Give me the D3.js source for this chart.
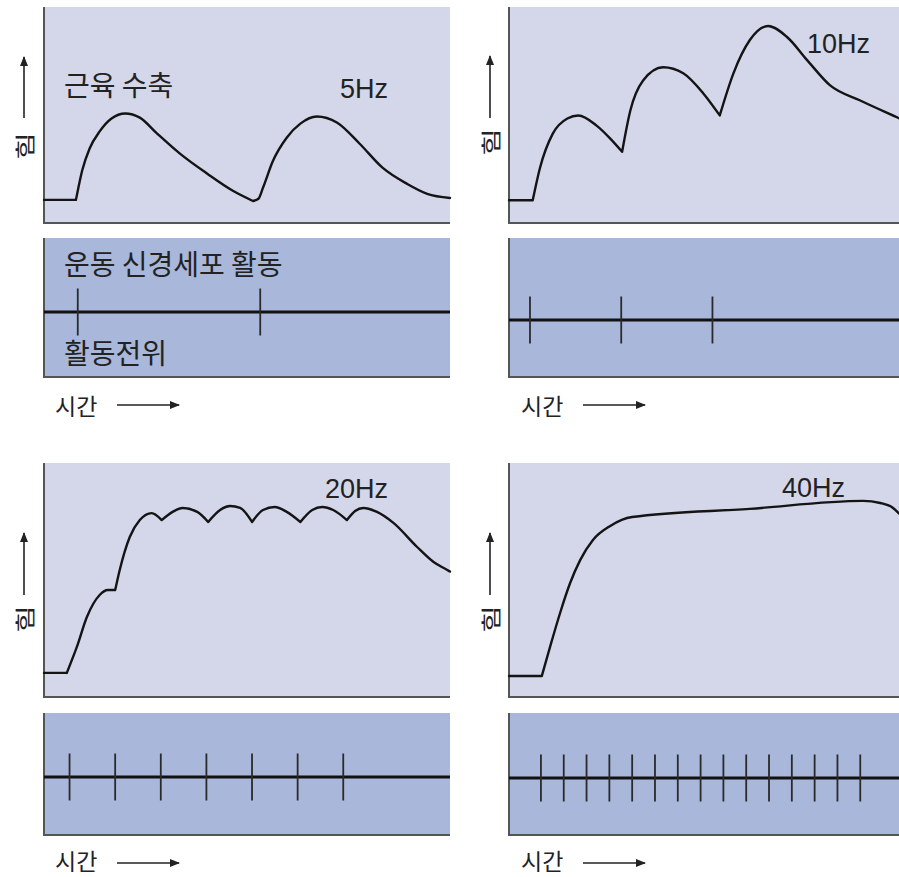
<!DOCTYPE html>
<html>
<head>
<meta charset="utf-8">
<script src="https://cdn.jsdelivr.net/npm/d3@7"></script>
<style>
  html, body { margin: 0; padding: 0; background: #ffffff; }
  svg { display: block; }
  .kr { font-family: "Noto Sans CJK KR", "Noto Sans", sans-serif; fill: #222; }
  .hz { font-family: "Liberation Sans", Arial, sans-serif; fill: #222; }
</style>
</head>
<body>
<svg id="chart" width="899" height="877"></svg>
<script>
// Time axis in ms, force in arbitrary units (0-100 per panel)
const timeDomain = [0, 445];
const forceDomain = [0, 100];

const frequencies = ["5Hz", "10Hz", "20Hz", "40Hz"];

// Motor neuron action-potential times (ms)
const spikes5Hz  = [37, 237];
const spikes10Hz = [23, 123, 223];
const spikes20Hz = [28, 78, 128, 178, 228, 278, 328];
const spikes40Hz = [35, 60, 85, 110, 135, 160, 185, 210, 235, 260, 285, 310, 335, 360, 385];

// Muscle force traces, split into segments at each twitch onset: [time, force]
const force5Hz = [
  [[0, 10.7], [35, 10.7]],
  [[35, 10.7], [38, 17.0], [42, 24.5], [50, 34.5], [61, 42.4], [74, 48.4], [89, 50.7], [105, 48.8], [124, 41.4],
   [149, 32.1], [179, 22.8], [207, 14.9], [229, 10.2]],
  [[229, 10.2], [235, 11.2], [240, 16.3], [251, 28.8], [266, 39.5], [281, 46.0], [299, 49.3],
   [321, 46.5], [346, 36.7], [371, 25.6], [398, 18.1], [420, 13.5], [445, 11.6]]
];
const force10Hz = [
  [[0, 10.5], [26, 10.5]],
  [[26, 10.5], [34, 25.6], [48, 41.4], [64, 48.4], [76, 49.8], [96, 45.1], [111, 39.1], [124, 33.0]],
  [[124, 33.0], [133, 52.1], [147, 66.0], [169, 72.1], [191, 69.3], [213, 60.0], [231, 49.8]],
  [[231, 49.8], [246, 69.3], [264, 84.7], [284, 91.2], [305, 86.0], [327, 75.3], [352, 63.7],
   [385, 56.7], [428, 48.4], [445, 45.1]]
];
const force20Hz = [
  [[0, 10.3], [25, 10.3]],
  [[25, 10.3], [36, 21.4], [47, 34.2], [61, 43.6], [70, 45.7], [78, 45.7]],
  [[78, 45.7], [83, 54.3], [94, 68.4], [105, 75.6], [118, 78.6], [129, 75.6]],
  [[129, 75.6], [141, 79.1], [152, 80.8], [168, 79.1], [180, 74.8]],
  [[180, 74.8], [193, 79.9], [204, 81.6], [215, 80.8], [228, 74.8]],
  [[228, 74.8], [240, 79.9], [253, 81.2], [266, 79.1], [281, 74.8]],
  [[281, 74.8], [294, 79.9], [305, 81.2], [317, 79.9], [332, 75.6]],
  [[332, 75.6], [341, 79.5], [350, 80.8], [365, 79.1], [383, 74.4], [409, 64.1], [427, 57.7],
   [442, 54.3], [445, 53.6]]
];
const force40Hz = [
  [[0, 9.0], [36, 9.0]],
  [[36, 9.0], [45, 21.4], [56, 35.9], [67, 48.7], [78, 58.5], [92, 67.1], [111, 73.1], [135, 76.9],
   [264, 80.4], [388, 83.8], [407, 82.9], [421, 80.8], [428, 78.2], [445, 71.4]]
];

const forceTraces = [force5Hz, force10Hz, force20Hz, force40Hz];
const spikeTrains = [spikes5Hz, spikes10Hz, spikes20Hz, spikes40Hz];

// Text
const forceLabel = "힘";
const timeLabel = "시간";
const contractionLabel = "근육 수축";
const neuronLabel = "운동 신경세포 활동";
const apLabel = "활동전위";

// Panel layout
const panelWidth = 406;
const layout = [
  { x0: 44,  fTop: 7,   fBot: 223, sTop: 238, sBot: 377, base: 312, hz: [340, 98],  arrow: [24, 118, 57],   forceText: [33, 146],  timeY: 405, timeBase: 415, timeX: 55 },
  { x0: 509, fTop: 7,   fBot: 223, sTop: 238, sBot: 377, base: 320, hz: [807, 53],  arrow: [490, 118, 56],  forceText: [499, 142], timeY: 405, timeBase: 415, timeX: 521 },
  { x0: 44,  fTop: 463, fBot: 697, sTop: 713, sBot: 835, base: 777, hz: [325, 498], arrow: [24, 595, 533],  forceText: [33, 619],  timeY: 863, timeBase: 870, timeX: 55 },
  { x0: 509, fTop: 463, fBot: 697, sTop: 713, sBot: 835, base: 778, hz: [782, 497], arrow: [490, 595, 533], forceText: [499, 619], timeY: 863, timeBase: 870, timeX: 521 }
];

const svg = d3.select("#chart");
const defs = svg.append("defs");
defs.append("marker")
  .attr("id", "head")
  .attr("viewBox", "0 0 10 10")
  .attr("refX", 9).attr("refY", 5)
  .attr("markerWidth", 10).attr("markerHeight", 10)
  .attr("markerUnits", "userSpaceOnUse")
  .attr("orient", "auto")
  .append("path")
  .attr("d", "M0,1 L10,5 L0,9 Z")
  .attr("fill", "#222");

const forceFill = "#d4d7ea";
const spikeFill = "#a9b7db";
const frameColor = "#555";

layout.forEach((L, i) => {
  const g = svg.append("g");
  const x = d3.scaleLinear().domain(timeDomain).range([L.x0, L.x0 + panelWidth]);
  const y = d3.scaleLinear().domain(forceDomain).range([L.fBot, L.fTop]);

  // Force panel
  g.append("rect")
    .attr("x", L.x0).attr("y", L.fTop)
    .attr("width", panelWidth).attr("height", L.fBot - L.fTop)
    .attr("fill", forceFill);
  g.append("path")
    .attr("d", `M${L.x0},${L.fTop} V${L.fBot} H${L.x0 + panelWidth}`)
    .attr("fill", "none").attr("stroke", frameColor).attr("stroke-width", 2);

  const line = d3.line().x(d => x(d[0])).y(d => y(d[1])).curve(d3.curveMonotoneX);
  const dPath = forceTraces[i].map(seg => line(seg)).join(" ");
  g.append("path")
    .attr("d", dPath)
    .attr("fill", "none").attr("stroke", "#141414").attr("stroke-width", 2.4)
    .attr("stroke-linejoin", "round").attr("stroke-linecap", "round");

  // Spike panel
  g.append("rect")
    .attr("x", L.x0).attr("y", L.sTop)
    .attr("width", panelWidth).attr("height", L.sBot - L.sTop)
    .attr("fill", spikeFill);
  g.append("path")
    .attr("d", `M${L.x0},${L.sTop} V${L.sBot} H${L.x0 + panelWidth}`)
    .attr("fill", "none").attr("stroke", frameColor).attr("stroke-width", 2);
  g.append("line")
    .attr("x1", L.x0).attr("x2", L.x0 + panelWidth)
    .attr("y1", L.base).attr("y2", L.base)
    .attr("stroke", "#111").attr("stroke-width", 3);
  g.selectAll("line.spike")
    .data(spikeTrains[i])
    .join("line")
    .attr("class", "spike")
    .attr("x1", d => x(d)).attr("x2", d => x(d))
    .attr("y1", L.base - 23.5).attr("y2", L.base + 23.5)
    .attr("stroke", "#2a2a2a").attr("stroke-width", 1.8);

  // Frequency label
  g.append("text").attr("class", "hz")
    .attr("x", L.hz[0]).attr("y", L.hz[1])
    .attr("font-size", 27)
    .text(frequencies[i]);

  // Force axis arrow and label
  g.append("line")
    .attr("x1", L.arrow[0]).attr("x2", L.arrow[0])
    .attr("y1", L.arrow[1]).attr("y2", L.arrow[2])
    .attr("stroke", "#222").attr("stroke-width", 1.6)
    .attr("marker-end", "url(#head)");
  g.append("text").attr("class", "kr")
    .attr("transform", `translate(${L.forceText[0]},${L.forceText[1]}) rotate(-90) scale(1.25,0.85)`)
    .attr("text-anchor", "middle")
    .attr("font-size", 24)
    .text(forceLabel);

  // Time label and arrow
  g.append("text").attr("class", "kr")
    .attr("x", L.timeX).attr("y", L.timeBase)
    .attr("font-size", 23)
    .text(timeLabel);
  g.append("line")
    .attr("x1", L.timeX + 62).attr("x2", L.timeX + 124)
    .attr("y1", L.timeY).attr("y2", L.timeY)
    .attr("stroke", "#222").attr("stroke-width", 1.6)
    .attr("marker-end", "url(#head)");
});

// Annotations on the 5 Hz panel
svg.append("text").attr("class", "kr")
  .attr("x", 64).attr("y", 96)
  .attr("font-size", 28)
  .text(contractionLabel);
svg.append("text").attr("class", "kr")
  .attr("x", 64).attr("y", 275)
  .attr("font-size", 28)
  .text(neuronLabel);
svg.append("text").attr("class", "kr")
  .attr("x", 64).attr("y", 364)
  .attr("font-size", 28)
  .text(apLabel);
</script>
</body>
</html>
